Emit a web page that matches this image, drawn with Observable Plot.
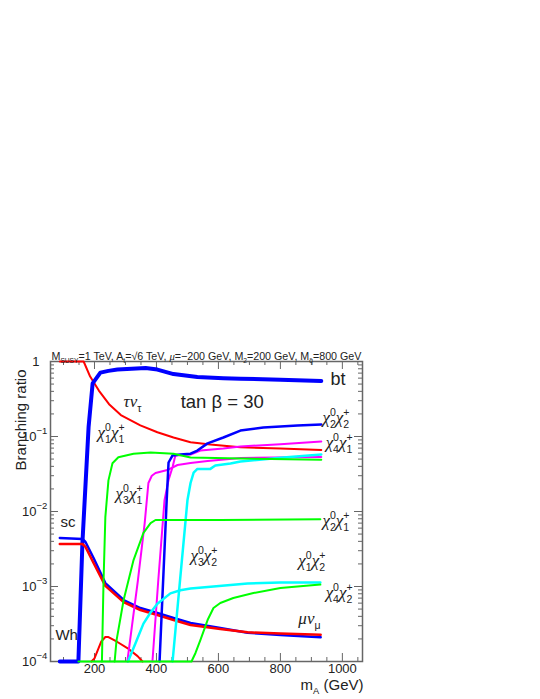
<!DOCTYPE html>
<html><head><meta charset="utf-8">
<script src="https://cdn.jsdelivr.net/npm/d3@7"></script>
<script src="https://cdn.jsdelivr.net/npm/@observablehq/plot@0.6"></script>
<style>body{margin:0;background:#fff}</style>
</head><body><div id="chart"></div>
<script>
// ---- data: [m_A (GeV), branching ratio] ----
const tauNu = [[88,1],[165,1],[186,0.63],[214,0.41],[247,0.27],[285,0.193],[348,0.141],[403,0.114],[455,0.097],[510,0.084],[574,0.078],[671,0.072],[800,0.069],[932,0.066]];
const bt = [[88,1e-4],[148,1e-4],[161,3.8e-3],[181,0.135],[194,0.51],[219,0.71],[245,0.75],[274,0.78],[320,0.80],[365,0.82],[403,0.78],[455,0.68],[532,0.62],[616,0.60],[671,0.59],[800,0.57],[932,0.55]];
const sc = [[88,4.44e-3],[161,4.3e-3],[171,3.92e-3],[197,2.4e-3],[235,1.11e-3],[294,6.6e-4],[348,5.16e-4],[403,4.44e-4],[455,3.8e-4],[510,3.26e-4],[606,2.8e-4],[694,2.42e-4],[800,2.25e-4],[930,2.11e-4]];
const muNu = [[88,3.69e-3],[161,3.69e-3],[171,3.37e-3],[197,2.06e-3],[235,1.02e-3],[294,6.2e-4],[348,4.86e-4],[403,4.17e-4],[455,3.57e-4],[510,3.07e-4],[606,2.71e-4],[694,2.45e-4],[800,2.36e-4],[930,2.27e-4]];
const wh = [[190,1e-4],[200,1.1e-4],[210,1.4e-4],[222,1.85e-4],[235,2.12e-4],[245,2.12e-4],[274,1.82e-4],[306,1.51e-4],[339,1.18e-4],[355,1e-4]];
const chi11 = [[224,1e-4],[229,1.1e-3],[235,8.4e-3],[245,0.026],[258,0.044],[277,0.053],[326,0.059],[381,0.061],[455,0.059],[510,0.0525],[671,0.051],[932,0.049]];
const chi21 = [[265,1e-4],[271,1.9e-4],[294,6.6e-4],[326,2.25e-3],[358,5.2e-3],[381,7.0e-3],[397,7.7e-3],[455,7.7e-3],[606,7.7e-3],[929,7.9e-3]];
const chi42 = [[148,1e-4],[513,1e-4],[526,1.3e-4],[542,1.94e-4],[565,3.57e-4],[584,5.16e-4],[606,6.03e-4],[648,7.03e-4],[713,8.18e-4],[800,9.55e-4],[929,1.06e-3]];
const chi31 = [[306,1e-4],[340,1.2e-3],[362,7e-3],[374,0.024],[385,0.030],[397,0.0326],[435,0.0357],[468,0.0417],[510,0.0444],[565,0.0471],[671,0.0516],[932,0.0533]];
const chi41 = [[387,1e-4],[406,1.23e-3],[426,0.0142],[439,0.0263],[452,0.0392],[461,0.0558],[510,0.0575],[542,0.065],[616,0.069],[671,0.0736],[800,0.079],[932,0.0858]];
const chi22 = [[410,1e-4],[433,0.0141],[439,0.045],[452,0.056],[477,0.0575],[510,0.059],[532,0.065],[565,0.081],[616,0.097],[671,0.12],[745,0.132],[855,0.140],[932,0.145]];
const chi32 = [[452,1e-4],[476,1.2e-3],[500,0.0141],[510,0.024],[520,0.033],[532,0.037],[574,0.037],[590,0.041],[639,0.0437],[671,0.0464],[800,0.052],[932,0.0575]];
const chi12 = [[308,1e-4],[333,1.78e-4],[358,3.2e-4],[381,4.5e-4],[403,5.9e-4],[445,8.1e-4],[477,8.9e-4],[510,9.4e-4],[584,1.0e-3],[694,1.1e-3],[800,1.13e-3],[929,1.13e-3]];

const series = [
  {data: tauNu, color: "#ff0000", w: 2},
  {data: bt,    color: "#0000ff", w: 4},
  {data: sc,    color: "#0000ff", w: 2.5},
  {data: muNu,  color: "#ff0000", w: 2.5},
  {data: wh,    color: "#ff0000", w: 2},
  {data: chi31, color: "#ff00ff", w: 2},
  {data: chi41, color: "#ff00ff", w: 2},
  {data: chi22, color: "#0000ff", w: 2.5},
  {data: chi32, color: "#00ffff", w: 2.5},
  {data: chi12, color: "#00ffff", w: 2.5},
  {data: chi11, color: "#00ff00", w: 2},
  {data: chi21, color: "#00ff00", w: 2},
  {data: chi42, color: "#00ff00", w: 2}
];

// ---- ticks & labels ----
const xMajor = [200, 400, 600, 800, 1000];
const xMinor = [100,150,250,300,350,450,500,550,650,700,750,850,900,950,1050];
const yMajor = [1e-4, 1e-3, 1e-2, 1e-1, 1];
const yExpLabels = ["−4", "−3", "−2", "−1"];
const yMinor = [1e-4, 1e-3, 1e-2, 1e-1].flatMap(d => [2,3,4,5,6,7,8,9].map(k => k * d));

const curveLabels = [
  {t: "bt", x: 962, y: 0.575, s: 18},
  {t: "τν_τ", x: 294, y: 0.29, s: 17},
  {t: "tan β = 30", x: 478, y: 0.29, s: 18.5},
  {t: "χ_1^0χ_1^+", x: 210, y: 0.113, s: 17},
  {t: "χ_3^0χ_1^+", x: 268, y: 0.0174, s: 17},
  {t: "χ_2^0χ_2^+", x: 936, y: 0.179, s: 17},
  {t: "χ_4^0χ_1^+", x: 946, y: 0.0832, s: 17},
  {t: "χ_2^0χ_1^+", x: 936, y: 0.0076, s: 17},
  {t: "χ_3^0χ_2^+", x: 510, y: 0.00259, s: 17},
  {t: "χ_1^0χ_2^+", x: 858, y: 0.00222, s: 17},
  {t: "χ_4^0χ_2^+", x: 946, y: 0.00083, s: 17},
  {t: "μν_μ", x: 858, y: 3.74e-4, s: 17},
  {t: "sc", x: 90, y: 0.00713, s: 15},
  {t: "Wh", x: 74, y: 2.22e-4, s: 15}
];
const titleText = "M_{SUSY}=1 TeV, A_t=√6 TeV, μ=−200 GeV, M_2=200 GeV, M_{q̃}=800 GeV";
const xTitle = "m_A (GeV)";
const yTitle = "Branching ratio";

// ---- layout ----
const W = 540, H = 699;
const mTop = 361, mBottom = 38, mLeft = 50, mRight = 178;
const innerW = W - mLeft - mRight, innerH = H - mTop - mBottom;
const tickC = "#666", frameC = "#666", textC = "#222";
const sans = "'Liberation Sans', Arial, Helvetica, sans-serif";

const marks = [
  Plot.frame({stroke: frameC, strokeWidth: 1.5}),
  Plot.tickX(xMajor, {x: d => d, insetTop: innerH - 8, stroke: tickC}),
  Plot.tickX(xMinor, {x: d => d, insetTop: innerH - 4, stroke: tickC}),
  Plot.tickX(xMajor, {x: d => d, insetBottom: innerH - 8, stroke: tickC}),
  Plot.tickX(xMinor, {x: d => d, insetBottom: innerH - 4, stroke: tickC}),
  Plot.tickY(yMajor, {y: d => d, insetRight: innerW - 8, stroke: tickC}),
  Plot.tickY(yMinor, {y: d => d, insetRight: innerW - 4, stroke: tickC}),
  Plot.tickY(yMajor, {y: d => d, insetLeft: innerW - 8, stroke: tickC}),
  Plot.tickY(yMinor, {y: d => d, insetLeft: innerW - 4, stroke: tickC}),
  ...series.map(s => Plot.line(s.data, {x: d => d[0], y: d => d[1], stroke: s.color, strokeWidth: s.w, strokeLinejoin: "round", strokeLinecap: "round"})),
  Plot.text(xMajor, {x: d => d, text: d => String(d), frameAnchor: "bottom", dy: 11, fontSize: 13, fill: textC}),
  Plot.text(yMajor.slice(0, 4), {y: d => d, text: () => "10", frameAnchor: "left", textAnchor: "end", dx: -14, fontSize: 13, fill: textC}),
  Plot.text(yMajor.slice(0, 4), {y: d => d, text: (d, i) => yExpLabels[i], frameAnchor: "left", textAnchor: "start", dx: -14, dy: -6, fontSize: 9.5, fill: textC}),
  Plot.text([1], {y: d => d, text: () => "1", frameAnchor: "left", textAnchor: "end", dx: -11, fontSize: 13, fill: textC}),
  Plot.text([yTitle], {text: d => d, frameAnchor: "top-left", rotate: -90, textAnchor: "end", dx: -35, dy: 8, fontSize: 15, fill: textC}),
  Plot.text([xTitle], {text: d => d, frameAnchor: "bottom-right", textAnchor: "end", dx: 1, dy: 28, fontSize: 15, fill: textC}),
  Plot.text([titleText], {text: d => d, frameAnchor: "top-left", textAnchor: "start", dx: 1, dy: -9, fontSize: 10.7, fill: textC}),
  ...curveLabels.map(l => Plot.text([l], {x: "x", y: "y", text: "t", textAnchor: "start", fontSize: l.s, fill: textC}))
];

const chart = Plot.plot({
  width: W, height: H,
  marginTop: mTop, marginBottom: mBottom, marginLeft: mLeft, marginRight: mRight,
  x: {domain: [58, 1065], axis: null},
  y: {type: "log", domain: [1e-4, 1], axis: null},
  style: {background: "white", fontFamily: sans, color: textC, overflow: "visible"},
  marks
});
document.getElementById("chart").appendChild(chart);

// ---- rich text: _sub ^sup (stacked when adjacent), serif Greek ----
const GREEK = new Set(["χ", "τ", "ν", "μ"]);
function parseRich(s) {
  const parts = []; let i = 0;
  while (i < s.length) {
    const c = s[i];
    if (c === "_" || c === "^") {
      let content;
      if (s[i + 1] === "{") { const k = s.indexOf("}", i + 2); content = s.slice(i + 2, k); i = k + 1; }
      else { content = s[i + 1]; i += 2; }
      parts.push({type: c, content});
    } else {
      let j = i; while (j < s.length && s[j] !== "_" && s[j] !== "^") j++;
      let run = "", g = null;
      for (const ch of s.slice(i, j)) {
        const isG = GREEK.has(ch);
        if (g !== null && isG !== g) { parts.push({type: "n", content: run, greek: g}); run = ""; }
        run += ch; g = isG;
      }
      if (run) parts.push({type: "n", content: run, greek: g});
      i = j;
    }
  }
  return parts;
}
function richify(node) {
  const s = node.textContent;
  if (!/[_^]/.test(s) && ![...s].some(c => GREEK.has(c))) return;
  const fs = parseFloat(getComputedStyle(node).fontSize) || 12;
  const parts = parseRich(s);
  while (node.firstChild) node.removeChild(node.firstChild);
  let cur = 0, prev = null;
  for (const p of parts) {
    const t = document.createElementNS("http://www.w3.org/2000/svg", "tspan");
    t.textContent = p.content;
    let target = 0;
    if (p.type === "^") { target = -0.42 * fs; t.setAttribute("font-size", (0.62 * fs).toFixed(2)); }
    else if (p.type === "_") { target = 0.28 * fs; t.setAttribute("font-size", (0.62 * fs).toFixed(2)); }
    if (target !== cur) { t.setAttribute("dy", (target - cur).toFixed(2)); cur = target; }
    if (p.type === "n" && p.greek) { t.setAttribute("font-family", "'Liberation Serif','DejaVu Serif',serif"); t.setAttribute("font-style", "italic"); }
    node.appendChild(t);
    if (p.type !== "n") {
      if (prev && prev.type !== p.type) { t.setAttribute("dx", (-prev.node.getComputedTextLength()).toFixed(2)); prev = null; }
      else prev = {type: p.type, node: t};
    } else prev = null;
  }
}
d3.select(chart).selectAll("text").each(function () { richify(this); });
</script>
</body></html>
